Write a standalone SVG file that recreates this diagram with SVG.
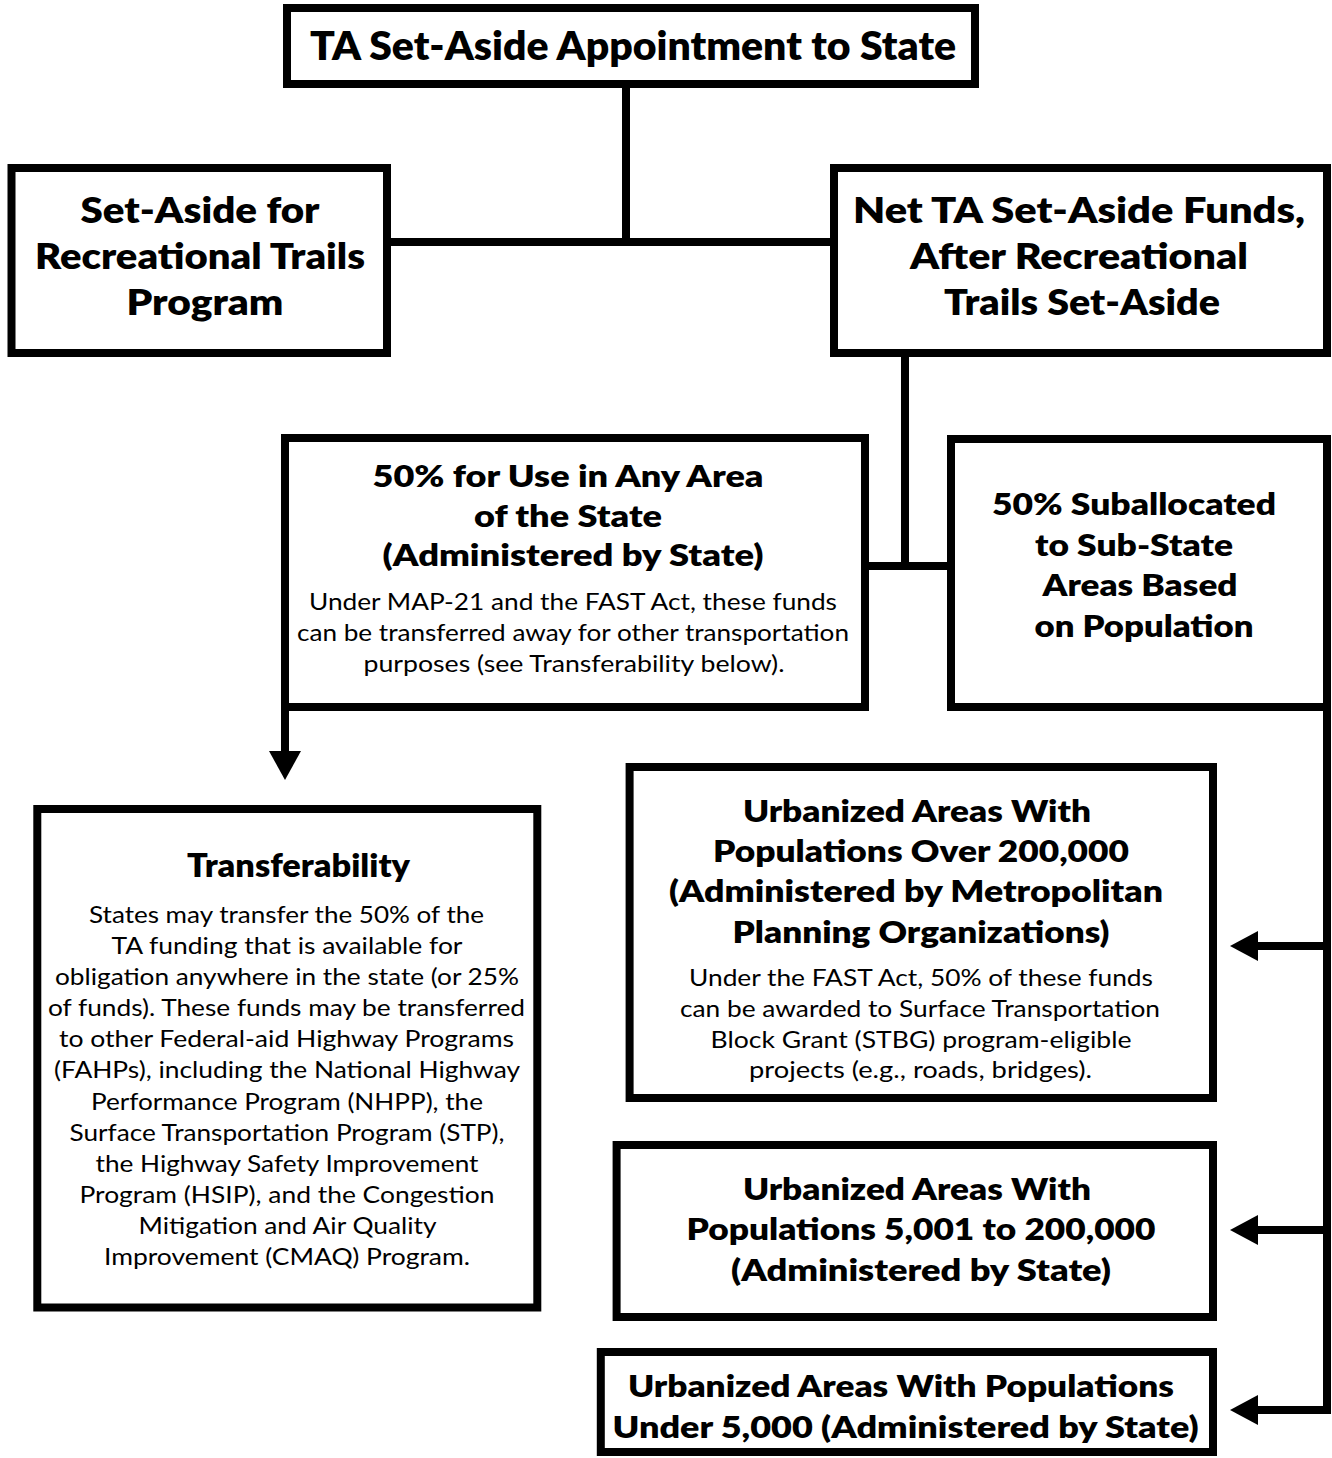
<svg xmlns="http://www.w3.org/2000/svg" width="1332" height="1458" viewBox="0 0 1332 1458">
<style>
.box{fill:#fff;stroke:#000;stroke-width:8}
.ln{fill:none;stroke:#000;stroke-width:8;stroke-linecap:butt}
.ah{fill:#000;stroke:none}
text{font-family:Lato,"Liberation Sans",sans-serif;text-anchor:middle;fill:#000}
.t1{font-weight:800;font-size:39px}
.t2{font-weight:800;font-size:36px}
.t3{font-weight:800;font-size:31px}
.t4{font-weight:800;font-size:32px}
.b{font-weight:400;font-size:23px}
</style>
<rect width="1332" height="1458" fill="#fff"/>
<g id="connectors">
<path class="ln" d="M626 84V246M387 242H834"/>
<path class="ln" d="M905 353V570M865 566H951"/>
<path class="ln" d="M285 707V753"/>
<polygon class="ah" points="269,751 301,751 285,780"/>
<path class="ln" d="M1327 707V1414M1256 946H1331M1256 1230H1331M1256 1410H1331"/>
<polygon class="ah" points="1258,931 1258,961 1230,946"/>
<polygon class="ah" points="1258,1215 1258,1245 1230,1230"/>
<polygon class="ah" points="1258,1395 1258,1425 1230,1410"/>
</g>
<g id="n-top">
<rect class="box" x="287" y="8" width="688" height="76"/>
<text class="t1" x="633" y="60" textLength="646" lengthAdjust="spacingAndGlyphs">TA Set-Aside Appointment to State</text>
</g>
<g id="n-rtp">
<rect class="box" x="11.5" y="168" width="375.5" height="185"/>
<text class="t2" x="200" y="223" textLength="239" lengthAdjust="spacingAndGlyphs">Set-Aside for</text>
<text class="t2" x="200" y="269" textLength="330" lengthAdjust="spacingAndGlyphs">Recreational Trails</text>
<text class="t2" x="205" y="315" textLength="157" lengthAdjust="spacingAndGlyphs">Program</text>
</g>
<g id="n-net">
<rect class="box" x="834" y="168" width="493" height="185"/>
<text class="t2" x="1079" y="223" textLength="452" lengthAdjust="spacingAndGlyphs">Net TA Set-Aside Funds,</text>
<text class="t2" x="1079" y="269" textLength="338" lengthAdjust="spacingAndGlyphs">After Recreational</text>
<text class="t2" x="1082" y="315" textLength="276" lengthAdjust="spacingAndGlyphs">Trails Set-Aside</text>
</g>
<g id="n-any">
<rect class="box" x="285" y="438" width="580" height="269"/>
<text class="t3" x="568" y="487" textLength="391" lengthAdjust="spacingAndGlyphs">50% for Use in Any Area</text>
<text class="t3" x="568" y="527" textLength="188" lengthAdjust="spacingAndGlyphs">of the State</text>
<text class="t3" x="573" y="566" textLength="381" lengthAdjust="spacingAndGlyphs">(Administered by State)</text>
<text class="b" x="573" y="610" textLength="528" lengthAdjust="spacingAndGlyphs">Under MAP-21 and the FAST Act, these funds</text>
<text class="b" x="573" y="641" textLength="552" lengthAdjust="spacingAndGlyphs">can be transferred away for other transportation</text>
<text class="b" x="574" y="672" textLength="421" lengthAdjust="spacingAndGlyphs">purposes (see Transferability below).</text>
</g>
<g id="n-sub">
<rect class="box" x="951" y="439" width="376" height="268"/>
<text class="t3" x="1134" y="515" textLength="284" lengthAdjust="spacingAndGlyphs">50% Suballocated</text>
<text class="t3" x="1134" y="556" textLength="198" lengthAdjust="spacingAndGlyphs">to Sub-State</text>
<text class="t3" x="1140" y="596" textLength="195" lengthAdjust="spacingAndGlyphs">Areas Based</text>
<text class="t3" x="1144" y="637" textLength="219" lengthAdjust="spacingAndGlyphs">on Population</text>
</g>
<g id="n-transfer">
<rect class="box" x="37.3" y="809" width="500" height="498.5"/>
<text class="t4" x="298.5" y="877" textLength="223" lengthAdjust="spacingAndGlyphs">Transferability</text>
<text class="b" x="286.5" y="923" textLength="395" lengthAdjust="spacingAndGlyphs">States may transfer the 50% of the</text>
<text class="b" x="287" y="954" textLength="351" lengthAdjust="spacingAndGlyphs">TA funding that is available for</text>
<text class="b" x="287" y="985" textLength="464" lengthAdjust="spacingAndGlyphs">obligation anywhere in the state (or 25%</text>
<text class="b" x="286.5" y="1016" textLength="477" lengthAdjust="spacingAndGlyphs">of funds). These funds may be transferred</text>
<text class="b" x="286.5" y="1047" textLength="455" lengthAdjust="spacingAndGlyphs">to other Federal-aid Highway Programs</text>
<text class="b" x="287" y="1078" textLength="466" lengthAdjust="spacingAndGlyphs">(FAHPs), including the National Highway</text>
<text class="b" x="287" y="1110" textLength="392" lengthAdjust="spacingAndGlyphs">Performance Program (NHPP), the</text>
<text class="b" x="287" y="1141" textLength="435" lengthAdjust="spacingAndGlyphs">Surface Transportation Program (STP),</text>
<text class="b" x="287" y="1172" textLength="383" lengthAdjust="spacingAndGlyphs">the Highway Safety Improvement</text>
<text class="b" x="287" y="1203" textLength="415" lengthAdjust="spacingAndGlyphs">Program (HSIP), and the Congestion</text>
<text class="b" x="287.5" y="1234" textLength="298" lengthAdjust="spacingAndGlyphs">Mitigation and Air Quality</text>
<text class="b" x="287" y="1265" textLength="366" lengthAdjust="spacingAndGlyphs">Improvement (CMAQ) Program.</text>
</g>
<g id="n-urb1">
<rect class="box" x="629.6" y="767" width="583.4" height="331"/>
<text class="t3" x="917" y="822" textLength="348" lengthAdjust="spacingAndGlyphs">Urbanized Areas With</text>
<text class="t3" x="921" y="862" textLength="416" lengthAdjust="spacingAndGlyphs">Populations Over 200,000</text>
<text class="t3" x="916" y="902" textLength="494" lengthAdjust="spacingAndGlyphs">(Administered by Metropolitan</text>
<text class="t3" x="921" y="943" textLength="377" lengthAdjust="spacingAndGlyphs">Planning Organizations)</text>
<text class="b" x="921" y="986" textLength="464" lengthAdjust="spacingAndGlyphs">Under the FAST Act, 50% of these funds</text>
<text class="b" x="920" y="1017" textLength="480" lengthAdjust="spacingAndGlyphs">can be awarded to Surface Transportation</text>
<text class="b" x="921" y="1048" textLength="421" lengthAdjust="spacingAndGlyphs">Block Grant (STBG) program-eligible</text>
<text class="b" x="920.5" y="1078" textLength="343" lengthAdjust="spacingAndGlyphs">projects (e.g., roads, bridges).</text>
</g>
<g id="n-urb2">
<rect class="box" x="616.6" y="1145" width="596.4" height="172"/>
<text class="t3" x="917" y="1200" textLength="348" lengthAdjust="spacingAndGlyphs">Urbanized Areas With</text>
<text class="t3" x="921" y="1240" textLength="469" lengthAdjust="spacingAndGlyphs">Populations 5,001 to 200,000</text>
<text class="t3" x="921" y="1281" textLength="380" lengthAdjust="spacingAndGlyphs">(Administered by State)</text>
</g>
<g id="n-urb3">
<rect class="box" x="600.8" y="1352" width="612.2" height="100"/>
<text class="t3" x="901" y="1397" textLength="546" lengthAdjust="spacingAndGlyphs">Urbanized Areas With Populations</text>
<text class="t3" x="905.6" y="1438" textLength="586" lengthAdjust="spacingAndGlyphs">Under 5,000 (Administered by State)</text>
</g>
</svg>
